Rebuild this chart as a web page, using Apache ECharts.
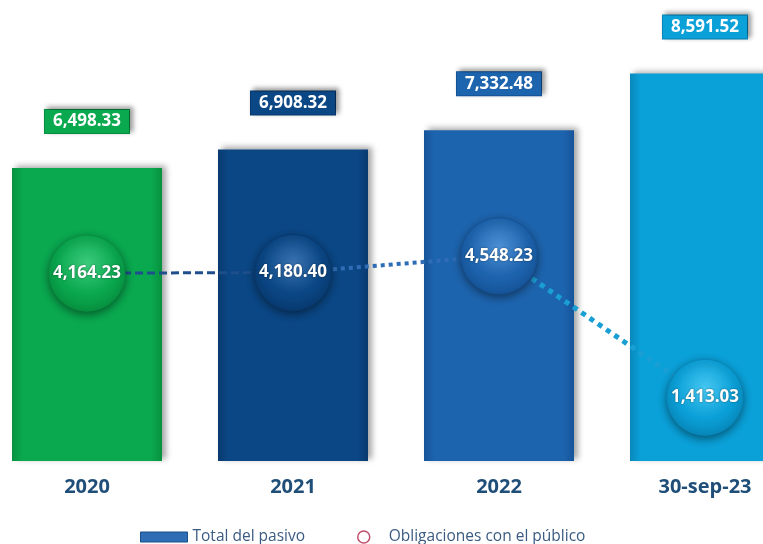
<!DOCTYPE html>
<html>
<head>
<meta charset="utf-8">
<script src="https://cdn.jsdelivr.net/npm/echarts@6/dist/echarts.min.js"></script>
<style>
  html, body { margin: 0; padding: 0; background: #fff; overflow: hidden; }
  /* the original picture is cropped: the plot runs past both edges */
  #chart { position: absolute; left: -16px; top: 0; width: 824px; height: 544px; }
</style>
</head>
<body>
<div id="chart"></div>
<script>
const categories = ["2020", "2021", "2022", "30-sep-23"];
const totalPasivo = [6498.33, 6908.32, 7332.48, 8591.52];
const obligaciones = [4164.23, 4180.4, 4548.23, 1413.03];

// one tone per year: [edge, main, light]
const tones = [
  ["#07913f", "#0aa84f", "#3ccb7c"],
  ["#083a70", "#0b4785", "#3a72b0"],
  ["#16549a", "#1d64ae", "#4d8fd4"],
  ["#0888bb", "#0aa0d8", "#45c6f0"]
];

const fmt = v => v.toLocaleString("en-US", { minimumFractionDigits: 2, maximumFractionDigits: 2 });

function barFill(t) {
  return new echarts.graphic.LinearGradient(0, 0, 1, 0, [
    { offset: 0, color: t[0] },
    { offset: 0.07, color: t[1] },
    { offset: 0.93, color: t[1] },
    { offset: 1, color: t[0] }
  ]);
}

function ballFill(t) {
  return new echarts.graphic.RadialGradient(0.5, 0.38, 0.65, [
    { offset: 0, color: t[2] },
    { offset: 0.6, color: t[1] },
    { offset: 1, color: t[0] }
  ]);
}

// a line piece that only joins points i and i+1
function segment(i) {
  return obligaciones.map((v, j) => (j === i || j === i + 1 ? v : "-"));
}

const segStyles = [
  { color: "#1f4e8c", width: 3, type: [8, 4] },
  { color: "#2e6db5", width: 4, type: [4, 4] },
  { color: "#1a9fd4", width: 5, type: [5, 5] }
];

const legendText = { color: "#3b5b80", fontSize: 15.5, fontFamily: "Open Sans" };

const chart = echarts.init(document.getElementById("chart"));

chart.setOption({
  animation: false,
  backgroundColor: "#fff",
  grid: { left: 0, right: 0, top: 10, bottom: 83 },
  legend: [
    {
      data: [{
        name: "Total del pasivo",
        icon: "rect",
        itemStyle: { color: "#2f6db5", borderColor: "#1b4f8a", borderWidth: 1 }
      }],
      left: 151, top: 524, itemWidth: 47, itemHeight: 10,
      textStyle: legendText
    },
    {
      data: [{
        name: "Obligaciones con el público",
        icon: "circle",
        itemStyle: { color: "#fff", borderColor: "#c0506d", borderWidth: 1.5 },
        lineStyle: { color: "#e2e2e2", width: 2, type: "dotted" }
      }],
      left: 368, top: 524, itemWidth: 40, itemHeight: 12,
      textStyle: legendText
    }
  ],
  xAxis: {
    type: "category",
    data: categories,
    axisLine: { show: false },
    axisTick: { show: false },
    axisLabel: {
      color: "#1f4e79", fontSize: 20, fontWeight: "bold",
      fontFamily: "Open Sans", margin: 16
    }
  },
  yAxis: {
    type: "value",
    min: 0,
    max: 10000,
    show: false,
    splitLine: { show: false }
  },
  series: [
    {
      name: "Total del pasivo",
      type: "bar",
      barWidth: 150,
      data: totalPasivo.map((v, i) => ({
        value: v,
        itemStyle: {
          color: barFill(tones[i]),
          shadowColor: "rgba(0,0,0,0.35)",
          shadowBlur: 6,
          shadowOffsetX: 4,
          shadowOffsetY: -2
        },
        label: {
          backgroundColor: tones[i][1],
          borderColor: tones[i][0],
          shadowColor: "rgba(0,0,0,0.4)",
          shadowBlur: 5,
          shadowOffsetX: 3,
          shadowOffsetY: -2
        }
      })),
      label: {
        show: true,
        position: "top",
        distance: 35,
        formatter: p => fmt(p.value),
        color: "#fff",
        fontSize: 17,
        fontWeight: "bold",
        fontFamily: "Open Sans",
        padding: [3, 8],
        borderWidth: 1
      }
    },
    ...segStyles.map((s, i) => ({
      name: "seg" + i,
      type: "line",
      data: segment(i),
      symbol: "none",
      z: 3,
      lineStyle: s
    })),
    {
      name: "Obligaciones con el público",
      type: "line",
      z: 4,
      symbol: "circle",
      symbolSize: 76,
      lineStyle: { width: 0, opacity: 0 },
      data: obligaciones.map((v, i) => ({
        value: v,
        itemStyle: {
          color: ballFill(tones[i]),
          borderColor: tones[i][0],
          borderWidth: 1,
          shadowColor: "rgba(0,0,0,0.45)",
          shadowBlur: 8,
          shadowOffsetY: 3
        }
      })),
      label: {
        show: true,
        position: "inside",
        formatter: p => fmt(p.value),
        color: "#fff",
        fontSize: 17,
        fontWeight: "bold",
        fontFamily: "Open Sans",
        textShadowColor: "rgba(0,0,0,0.5)",
        textShadowBlur: 2
      }
    }
  ]
});
</script>
</body>
</html>
